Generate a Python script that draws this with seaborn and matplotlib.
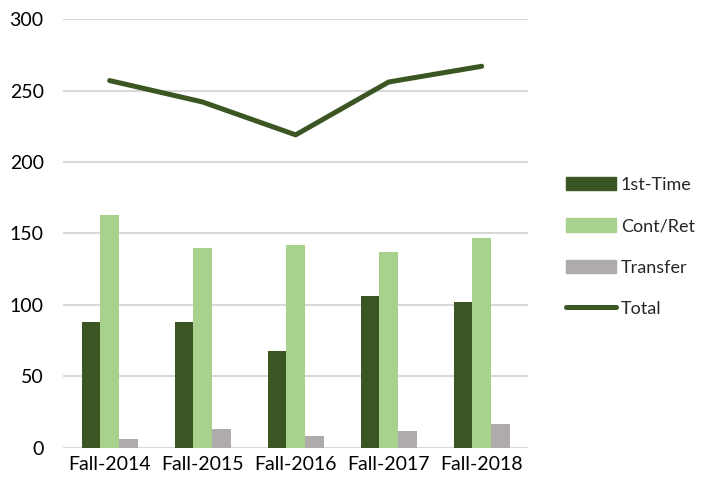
import pandas as pd
import numpy as np
import matplotlib.pyplot as plt
import seaborn as sns
from matplotlib.patches import Patch
from matplotlib.lines import Line2D

terms = ['Fall-2014', 'Fall-2015', 'Fall-2016', 'Fall-2017', 'Fall-2018']
first_time = [88, 88, 68, 106, 102]
cont_ret = [163, 140, 142, 137, 147]
transfer = [6, 13, 8, 12, 17]
total = [257, 242, 219, 256, 267]

series = ['1st-Time', 'Cont/Ret', 'Transfer']
colors = ['#3B5623', '#A9D18E', '#AFABAB']
line_color = '#3B5623'

df = pd.DataFrame({'term': terms, '1st-Time': first_time,
                   'Cont/Ret': cont_ret, 'Transfer': transfer})
long = df.melt(id_vars='term', var_name='type', value_name='count')

sns.set_style('white')
plt.rcParams['font.family'] = ['Lato', 'DejaVu Sans']

fig = plt.figure(figsize=(7.09, 4.90), dpi=100)
ax = fig.add_axes([0.089, 0.086, 0.656, 0.875])

sns.barplot(data=long, x='term', y='count', hue='type', order=terms,
            hue_order=series, palette=colors, width=0.6, saturation=1,
            linewidth=0, ax=ax, legend=False)
sns.lineplot(x=np.arange(len(terms)), y=total, color=line_color,
             linewidth=3.6, ax=ax, legend=False)

ax.set_ylim(0, 300)
ax.set_xlim(-0.5, len(terms) - 0.5)
ax.set_yticks(range(0, 301, 50))
ax.yaxis.grid(True, color='#D9D9D9', linewidth=1.5)
ax.set_axisbelow(True)
for s in ax.spines.values():
    s.set_visible(False)
ax.set_xlabel('')
ax.set_ylabel('')
ax.tick_params(axis='both', length=0, labelsize=14, colors='#000000')
ax.tick_params(axis='y', pad=14)
ax.tick_params(axis='x', pad=6)

handles = [Patch(color=c, label=l) for c, l in zip(colors, series)]
handles.append(Line2D([0], [0], color=line_color, lw=3.6, label='Total',
                      solid_capstyle='round'))
fig.legend(handles=handles, loc='center left', bbox_to_anchor=(0.798, 0.496),
           frameon=False, fontsize=13, handlelength=2.8, handleheight=0.75,
           handletextpad=0.25, labelspacing=1.4, borderaxespad=0, borderpad=0)

plt.savefig('out.png', dpi=100)
